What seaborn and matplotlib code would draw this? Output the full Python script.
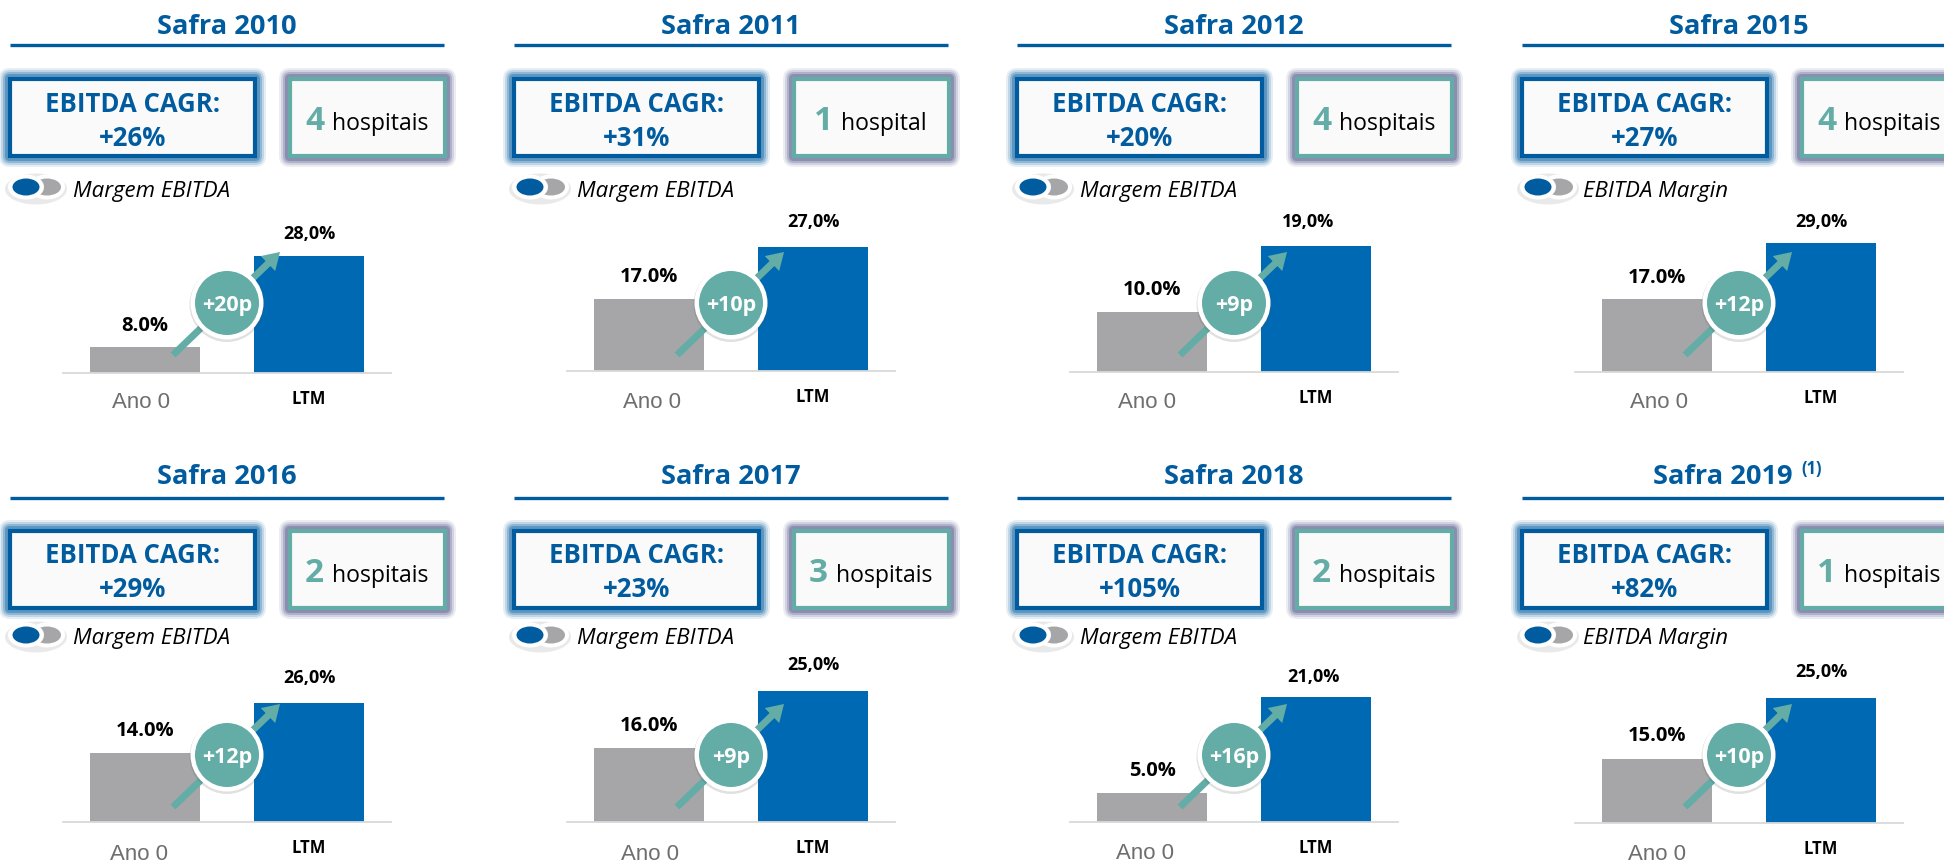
"""Recreates the Safra EBITDA margin small multiples (8 panels)."""

import pandas as pd
import matplotlib
matplotlib.use("Agg")
import matplotlib.pyplot as plt
import seaborn as sns
from matplotlib.patches import Rectangle, Ellipse, Circle, FancyArrowPatch, FancyBboxPatch
from matplotlib.transforms import ScaledTranslation

safras = ["Safra 2010", "Safra 2011", "Safra 2012", "Safra 2015",
          "Safra 2016", "Safra 2017", "Safra 2018", "Safra 2019"]
categories = ["Ano 0", "LTM"]
ano0_values = [8.0, 17.0, 10.0, 17.0, 14.0, 16.0, 5.0, 15.0]
ltm_values = [28.0, 27.0, 19.0, 29.0, 26.0, 25.0, 21.0, 25.0]
ano0_labels = ["8.0%", "17.0%", "10.0%", "17.0%", "14.0%", "16.0%", "5.0%", "15.0%"]
ltm_labels = ["28,0%", "27,0%", "19,0%", "29,0%", "26,0%", "25,0%", "21,0%", "25,0%"]
delta_labels = ["+20p", "+10p", "+9p", "+12p", "+12p", "+9p", "+16p", "+10p"]
cagr_labels = ["+26%", "+31%", "+20%", "+27%", "+29%", "+23%", "+105%", "+82%"]
hospital_counts = ["4", "1", "4", "4", "2", "3", "2", "1"]
hospital_words = ["hospitais", "hospital", "hospitais", "hospitais",
                  "hospitais", "hospitais", "hospitais", "hospitais"]
margin_labels = ["Margem EBITDA", "Margem EBITDA", "Margem EBITDA", "EBITDA Margin",
                 "Margem EBITDA", "Margem EBITDA", "Margem EBITDA", "EBITDA Margin"]

# each panel has its own truncated y axis in the source
y_floor = [2.29, 3.15, 1.93, 1.36, -2.6, 4.16, 0.18, 4.51]
y_ceiling = [33.06, 30.07, 20.85, 31.34, 30.97, 26.38, 23.44, 27.46]

# layout in reference pixels
W, H = 1944, 862
PANEL_X = [0, 504, 1007, 1512, 0, 504, 1007, 1512]
ROW_DY = [0, 0, 0, 0, 452, 452, 452, 452]
BASE_Y = [373.7, 372, 373, 373, 823.3, 823.3, 823, 824]
AXES_H = 140
ANO_DX = [-4, 3, -5, 2, -6, 1, -7, 0]
ANO_PAD = [29, 31, 30, 30, 31, 31, 31, 31]
GRAY_LABEL_DY = [22, 23, 23, 22, 23, 23, 23, 24]
BLUE_LABEL_DY = [23, 26, 25, 22, 26, 27, 21, 27]
BLUE_LABEL_DX = [0, 0, -8, 0, 0, 0, -3, 0]
WORD_X = [332, 337, 332, 332, 332, 332, 332, 332]
TITLE_DX = [0, 0, 0, 0, 0, 0, 0, -16]

BLUE = "#005C9F"
BAR_BLUE = "#0069B4"
BAR_GRAY = "#A6A6A8"
TEAL = "#63ADA6"
GLOW_TEAL = "#4A4F85"
FONT = "Open Sans"

sns.set_theme(style="white")
plt.rcParams["font.family"] = [FONT, "DejaVu Sans"]

fig = plt.figure(figsize=(W / 100, H / 100), dpi=100)


def draw_bars(i):
    left = (PANEL_X[i] + 63) / W
    bottom = (H - BASE_Y[i]) / H
    ax = fig.add_axes([left, bottom, 328 / W, AXES_H / H])
    ax.patch.set_alpha(0)
    df = pd.DataFrame({"periodo": categories, "margem": [ano0_values[i], ltm_values[i]]})
    sns.barplot(data=df, x="periodo", y="margem", hue="periodo",
                palette=[BAR_GRAY, BAR_BLUE], saturation=1, width=0.667,
                legend=False, ax=ax)
    # bars start on the truncated axis floor
    for p, v in zip(ax.patches, df["margem"]):
        p.set_y(y_floor[i])
        p.set_height(v - y_floor[i])
        p.set_linewidth(0)
    ax.set_xlim(-0.5, 1.5)
    ax.set_ylim(y_floor[i], y_ceiling[i])
    ax.set_xlabel("")
    ax.set_ylabel("")
    ax.set_yticks([])
    ax.set_xticks([0, 1], categories)
    sns.despine(ax=ax, left=True)
    ax.spines["bottom"].set_color("#D9D9D9")
    ax.spines["bottom"].set_linewidth(1.3)
    ax.tick_params(axis="x", length=0)

    tick0, tick1 = ax.get_xticklabels()
    tick0.set(fontfamily="Liberation Sans", fontsize=16, color="#6E6E6E", va="center")
    tick1.set(fontsize=12, fontweight="bold", color="black", va="center")
    ticks = ax.xaxis.get_major_ticks()
    ticks[0].set_pad(ANO_PAD[i] * 0.72)
    ticks[1].set_pad(25 * 0.72)
    tick0 = ticks[0].label1
    tick0.set_transform(tick0.get_transform()
                        + ScaledTranslation(ANO_DX[i] / 100, 0, fig.dpi_scale_trans))

    ax.annotate(ano0_labels[i], (0, ano0_values[i]), xytext=(0, GRAY_LABEL_DY[i]),
                textcoords="offset pixels", ha="center", va="center",
                fontsize=14.5, fontweight="bold", color="black")
    ax.annotate(ltm_labels[i], (1, ltm_values[i]), xytext=(BLUE_LABEL_DX[i], BLUE_LABEL_DY[i]),
                textcoords="offset pixels", ha="center", va="center",
                fontsize=13, fontweight="bold", color="black")


def glow_box(ov, x0, y0, x1, y1, edge, glow):
    for m, a in [(11, 0.10), (9, 0.16), (7, 0.25), (5, 0.35)]:
        ov.add_patch(FancyBboxPatch((x0, y0), x1 - x0, y1 - y0,
                                    boxstyle=f"round,pad={m},rounding_size={m}",
                                    fc=glow, ec="none", alpha=a, zorder=2))
    ov.add_patch(Rectangle((x0, y0), x1 - x0, y1 - y0, fc="#FAFAFA", ec=edge,
                           lw=3, zorder=3, joinstyle="miter"))


def draw_overlay(ov, i):
    ox, dy = PANEL_X[i], ROW_DY[i]

    # header
    title_y = 27 + (450 if dy else 0)
    ov.text(ox + 227 + TITLE_DX[i], title_y, safras[i], ha="center", va="center",
            fontsize=19.6, fontweight="bold", color=BLUE)
    rule_y = 46 + (453 if dy else 0)
    ov.plot([ox + 10, ox + 444], [rule_y, rule_y], color=BLUE, lw=2.4,
            solid_capstyle="butt", zorder=2)

    # boxes
    glow_box(ov, ox + 10, 80 + dy, ox + 255, 157 + dy, BLUE, BLUE)
    glow_box(ov, ox + 290, 80 + dy, ox + 445, 157 + dy, TEAL, GLOW_TEAL)
    ov.text(ox + 132.5, 104 + dy, "EBITDA CAGR:", ha="center", va="center",
            fontsize=18.5, fontweight="bold", color=BLUE, zorder=4)
    ov.text(ox + 132.5, 138 + dy, cagr_labels[i], ha="center", va="center",
            fontsize=18.5, fontweight="bold", color=BLUE, zorder=4)
    ov.text(ox + WORD_X[i] - 8, 122 + dy, hospital_counts[i], ha="right", va="center",
            fontsize=24, fontweight="bold", color=TEAL, zorder=4)
    ov.text(ox + WORD_X[i], 124 + dy, hospital_words[i], ha="left", va="center",
            fontsize=16.6, color="black", zorder=4)

    # toggle legend
    ty = 188 + (448 if dy else 0)
    ov.add_patch(Ellipse((ox + 36, ty + 2), 62, 31, fc="#888888", alpha=0.18, ec="none", zorder=2))
    ov.add_patch(Ellipse((ox + 47, ty), 36, 25, fc="white", ec="none", zorder=3))
    ov.add_patch(Ellipse((ox + 47, ty), 28, 17, fc=BAR_GRAY, ec="none", zorder=3))
    ov.add_patch(Ellipse((ox + 26, ty), 36, 25, fc="white", ec="none", zorder=4))
    ov.add_patch(Ellipse((ox + 26, ty), 27, 17, fc=BLUE, ec="none", zorder=4))
    ov.text(ox + (71 if margin_labels[i].startswith("EBITDA") else 73), ty + 3, margin_labels[i],
            ha="left", va="center", fontsize=16, fontstyle="italic", color="black", zorder=4)

    # arrow and badge
    badge_y = 304 + dy
    ov.add_patch(FancyArrowPatch((ox + 173, 356 + dy), (ox + 280, 253 + dy),
                                 arrowstyle="simple,head_length=12,head_width=15,tail_width=5",
                                 mutation_scale=1, shrinkA=0, shrinkB=0,
                                 fc=TEAL, ec="none", zorder=5))
    ov.add_patch(Circle((ox + 227, badge_y + 1.5), 37.5, fc="#555555", alpha=0.18, ec="none", zorder=6))
    ov.add_patch(Circle((ox + 227, badge_y), 36.5, fc="white", ec="none", zorder=6))
    ov.add_patch(Circle((ox + 227, badge_y), 32, fc=TEAL, ec="none", zorder=7))
    ov.text(ox + 227, badge_y + 2, delta_labels[i], ha="center", va="center",
            fontsize=15.5, fontweight="bold", color="white", zorder=8)


for i in range(len(safras)):
    draw_bars(i)

ov = fig.add_axes([0, 0, 1, 1], zorder=10)
ov.patch.set_alpha(0)
ov.set_xlim(0, W)
ov.set_ylim(H, 0)
ov.axis("off")

for i in range(len(safras)):
    draw_overlay(ov, i)

ov.text(1801, 469, "(1)", ha="left", va="center", fontsize=12, fontweight="bold", color=BLUE)

fig.savefig("out.png", dpi=100, facecolor="white")
